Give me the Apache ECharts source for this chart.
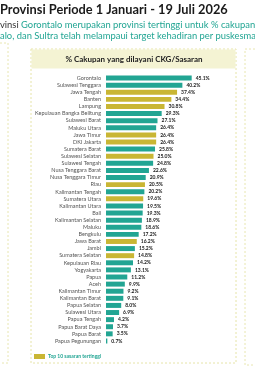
<!DOCTYPE html>
<html>
<head>
<meta charset="utf-8">
<script src="https://cdn.jsdelivr.net/npm/echarts@6/dist/echarts.min.js"></script>
<style>
  html, body { margin: 0; padding: 0; background: #fff; }
  #chart { width: 255px; height: 380px; }
</style>
</head>
<body>
<div id="chart"></div>
<script>
// provinsi dan % cakupan yang dilayani CKG / sasaran
var provinces = ['Gorontalo', 'Sulawesi Tenggara', 'Jawa Tengah', 'Banten', 'Lampung',
    'Kepulauan Bangka Belitung', 'Sulawesi Barat', 'Maluku Utara', 'Jawa Timur', 'DKI Jakarta',
    'Sumatera Barat', 'Sulawesi Selatan', 'Sulawesi Tengah', 'Nusa Tenggara Barat', 'Nusa Tenggara Timur',
    'Riau', 'Kalimantan Tengah', 'Sumatera Utara', 'Kalimantan Utara', 'Bali',
    'Kalimantan Selatan', 'Maluku', 'Bengkulu', 'Jawa Barat', 'Jambi',
    'Sumatera Selatan', 'Kepulauan Riau', 'Yogyakarta', 'Papua', 'Aceh',
    'Kalimantan Timur', 'Kalimantan Barat', 'Papua Selatan', 'Sulawesi Utara', 'Papua Tengah',
    'Papua Barat Daya', 'Papua Barat', 'Papua Pegunungan'];
var coverage = [45.1, 40.2, 37.4, 34.4, 30.8, 29.3, 27.1, 26.4, 26.4, 26.4,
    25.8, 25.0, 24.8, 22.6, 20.9, 20.5, 20.2, 19.6, 19.5, 19.3,
    18.9, 18.6, 17.2, 16.2, 15.2, 14.8, 14.2, 13.1, 11.2, 9.9,
    9.2, 9.1, 8.0, 6.9, 4.2, 3.7, 3.5, 0.7];
// 10 provinsi dengan sasaran tertinggi
var top10 = ['Jawa Tengah', 'Banten', 'Lampung', 'Jawa Timur', 'DKI Jakarta',
    'Sulawesi Selatan', 'Riau', 'Sumatera Utara', 'Jawa Barat', 'Sumatera Selatan'];

var TEAL = '#22a593';
var OLIVE = '#c9b634';
var FONT = 'Lato, "Noto Sans", sans-serif';

var chart = echarts.init(document.getElementById('chart'));

var option = {
    backgroundColor: '#fff',
    animation: false,
    textStyle: { fontFamily: FONT },
    graphic: [
        // panel kiri (terpotong)
        { type: 'rect', shape: { x: -20, y: 43, width: 28, height: 320 },
          style: { fill: '#fff', stroke: '#e8e6b0', lineWidth: 1, lineDash: [2, 2] } },
        // panel kanan (terpotong)
        { type: 'rect', shape: { x: 245, y: 49, width: 40, height: 316 },
          style: { fill: '#fff', stroke: '#e8e6b0', lineWidth: 1, lineDash: [2, 2] } },
        // panel utama
        { type: 'rect', shape: { x: 31, y: 49, width: 205, height: 314 },
          style: { fill: '#fff', stroke: '#e6e4a8', lineWidth: 1, lineDash: [2, 2] } },
        { type: 'rect', shape: { x: 31.5, y: 49.5, width: 204, height: 19 },
          style: { fill: '#f4f3d3' } },
        { type: 'text', left: 0, top: 3,
          style: { text: 'Provinsi Periode 1 Januari - 19 Juli 2026', fill: '#1a1a1a',
                   font: 'bold 12.8px ' + FONT } },
        { type: 'text', left: 0, top: 20,
          style: { text: '{d|vinsi }{t|Gorontalo merupakan provinsi tertinggi untuk % cakupan}',
                   rich: { d: { fill: '#333', font: '9.4px ' + FONT },
                           t: { fill: TEAL, font: '9.4px ' + FONT } } } },
        { type: 'text', left: 0, top: 31,
          style: { text: 'alo, dan Sultra telah melampaui target kehadiran per puskesmas',
                   fill: TEAL, font: '9.4px ' + FONT } },
        { type: 'text', x: 134, y: 59,
          style: { text: '% Cakupan yang dilayani CKG/Sasaran', fill: '#222',
                   font: 'bold 8px ' + FONT, align: 'center', verticalAlign: 'middle' } },
        // legenda
        { type: 'rect', shape: { x: 34, y: 354, width: 11, height: 5 }, style: { fill: OLIVE } },
        { type: 'text', x: 48, y: 356.5,
          style: { text: 'Top 10 sasaran tertinggi', fill: TEAL, font: 'bold 5px ' + FONT,
                   verticalAlign: 'middle' } }
    ],
    grid: { left: 106, right: 54, top: 74.5, bottom: 35.5 },
    xAxis: {
        type: 'value', min: 0, max: 50, show: false
    },
    yAxis: {
        type: 'category',
        data: provinces,
        inverse: true,
        axisLine: { show: false },
        axisTick: { show: false },
        axisLabel: { interval: 0, color: '#555', fontSize: 5.5, margin: 5, fontFamily: FONT }
    },
    series: [{
        type: 'bar',
        barCategoryGap: '30%',
        data: coverage.map(function (v, i) {
            return {
                value: v,
                itemStyle: { color: top10.indexOf(provinces[i]) >= 0 ? OLIVE : TEAL }
            };
        }),
        label: {
            show: true, position: 'right', distance: 4,
            color: '#222', fontSize: 5, fontWeight: 'bold', fontFamily: FONT,
            formatter: function (p) { return p.value.toFixed(1) + '%'; }
        }
    }]
};

chart.setOption(option);
window.addEventListener('resize', function () { chart.resize(); });
</script>
</body>
</html>
